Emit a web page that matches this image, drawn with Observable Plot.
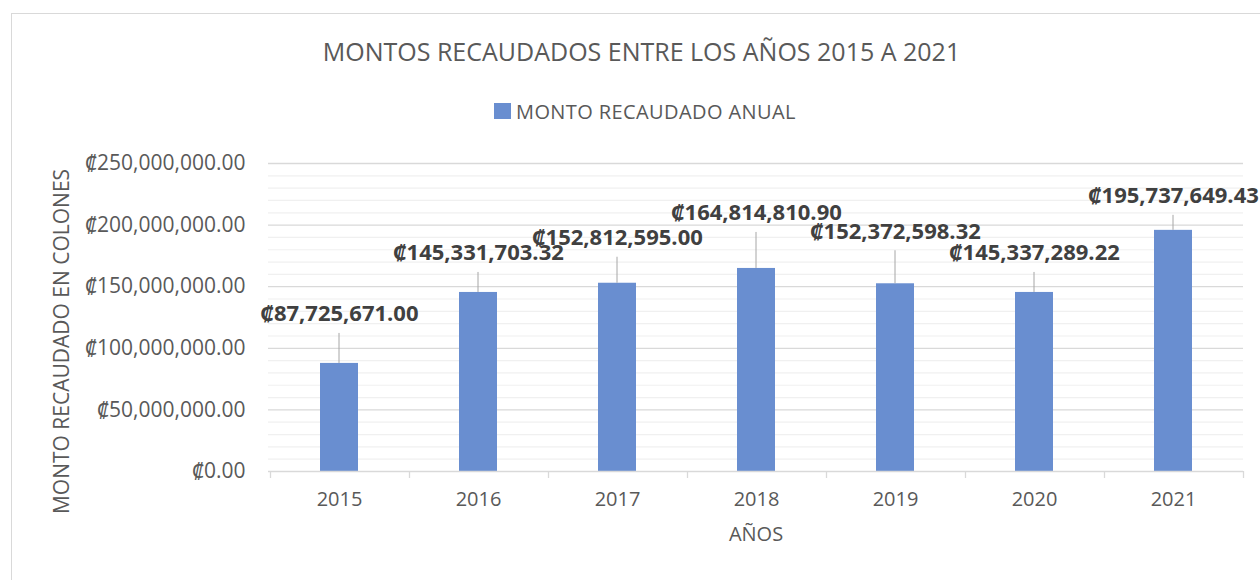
<!DOCTYPE html>
<html><head><meta charset="utf-8">
<script src="https://cdn.jsdelivr.net/npm/d3@7"></script>
<script src="https://cdn.jsdelivr.net/npm/@observablehq/plot@0.6"></script>
<style>
body{margin:0;background:#fff;width:1260px;height:580px;overflow:hidden;position:relative;font-family:"Open Sans","Noto Sans","DejaVu Sans",sans-serif;}
#frame{position:absolute;left:11px;top:13px;width:1280px;height:600px;border:1px solid #d9d9d9;box-sizing:border-box}
#title{position:absolute;top:33px;left:0;width:1283px;text-align:center;font-size:25px;line-height:36px;color:#595959}
#legend{position:absolute;top:98px;left:494px;height:26px;display:flex;align-items:center;font-size:20px;letter-spacing:0.4px;color:#595959}
#legend .sw{width:17px;height:16px;background:#698ed0;margin-right:5px}
#chart{position:absolute;left:0;top:130px}
</style></head>
<body>
<div id="frame"></div>
<div id="title">MONTOS RECAUDADOS ENTRE LOS AÑOS 2015 A 2021</div>
<div id="legend"><div class="sw"></div><span>MONTO RECAUDADO ANUAL</span></div>
<div id="chart"></div>
<script>
const years = ["2015","2016","2017","2018","2019","2020","2021"];
const amounts = [87725671.00, 145331703.32, 152812595.00, 164814810.90, 152372598.32, 145337289.22, 195737649.43];
const yTicks = [0, 50000000, 100000000, 150000000, 200000000, 250000000];
const seriesName = "MONTO RECAUDADO ANUAL";
const xTitle = "AÑOS";
const yTitle = "MONTO RECAUDADO EN COLONES";

// label placement (pixel offsets from bar top), layout only
const labelDy = [-49, -39, -45, -55, -52, -39, -34];

const data = years.map((y, i) => ({year: y, value: amounts[i], dy: labelDy[i]}));
const fmt = d => "₡" + d3.format(",.2f")(d);
const minor = d3.range(0, 250000001, 10000000).filter(v => v % 50000000 !== 0);

const leaders = (index, scales) => {
  const {x, y} = scales;
  const bw = typeof x.bandwidth === "function" ? x.bandwidth() : x.bandwidth;
  const g = d3.create("svg:g");
  const x0 = x(years[0]);
  const step = x(years[1]) - x(years[0]);
  const start = x0 - (step - bw) / 2;
  for (let i = 0; i <= years.length; i++) {
    const px = Math.round(start + i * step) + 0.5;
    g.append("line").attr("x1", px).attr("x2", px).attr("y1", y(0)).attr("y2", y(0) + 7)
      .attr("stroke", "#d9d9d9").attr("stroke-width", 1.3);
  }
  data.forEach(d => {
    const cx = x(d.year) + bw / 2;
    const top = y(d.value);
    g.append("line").attr("x1", cx).attr("x2", cx).attr("y1", top).attr("y2", top + d.dy + 19)
      .attr("stroke", "#a6a6a6").attr("stroke-width", 1);
  });
  return g.node();
};

const plot = Plot.plot({
  width: 1260,
  height: 450,
  marginTop: 33,
  marginBottom: 109,
  marginLeft: 268,
  marginRight: 17,
  style: {fontFamily: '"Open Sans","Noto Sans","DejaVu Sans",sans-serif', fontSize: "20px", color: "#595959", background: "transparent"},
  x: {type: "band", domain: years, paddingInner: 0.727, paddingOuter: 0.3635},
  y: {domain: [0, 250000000]},
  marks: [
    Plot.ruleY(minor, {stroke: "#f0f0f0", strokeWidth: 1.2}),
    Plot.ruleY(yTicks.slice(1), {stroke: "#d9d9d9", strokeWidth: 1.3}),
    Plot.barY(data, {x: "year", y: "value", fill: "#698ed0"}),
    Plot.ruleY([0], {stroke: "#d9d9d9", strokeWidth: 1.3}),
    leaders,
    ...data.map(d => Plot.text([d], {x: "year", y: "value", text: d => fmt(d.value), dy: d.dy,
      fontSize: 22, fontWeight: "bold", fill: "#404040"})),
    Plot.axisY({ticks: yTicks, tickFormat: fmt, tickSize: 0, tickPadding: 23, label: null, fontSize: 21}),
    Plot.axisX({tickSize: 0, tickPadding: 20, label: null, fontSize: 20}),
    Plot.text([xTitle], {frameAnchor: "bottom", dy: 69, fontSize: 20, fill: "#595959"}),
    Plot.text([yTitle], {frameAnchor: "left", textAnchor: "middle", dx: -206, dy: 24, rotate: -90, fontSize: 21, fill: "#595959"})
  ]
});
document.getElementById("chart").appendChild(plot);
</script>
</body></html>
